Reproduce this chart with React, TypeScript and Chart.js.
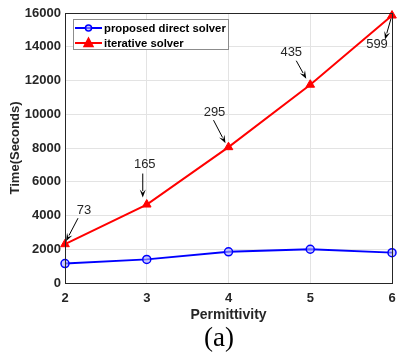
import React, { useEffect, useRef } from "react";
import { Chart, registerables } from "chart.js";

Chart.register(...registerables);

const permittivity = [2, 3, 4, 5, 6];
const directTimes = [1150, 1400, 1850, 2000, 1800];
const iterativeTimes = [2300, 4650, 8050, 11750, 15850];
const iterationLabels = ["73", "165", "295", "435", "599"];
const yTickMax = 16000;
const yTickStep = 2000;

const FONT = "'Liberation Sans', Arial, sans-serif";

// offsets (px) of text centre, arrow tail and arrow head relative to each red point
const annotationOffsets = [
  { tx: 19, ty: -34, ax: 13, ay: -26, hx: 1, hy: -3 },
  { tx: -2, ty: -40, ax: -4, ay: -31, hx: -4, hy: -7 },
  { tx: -14, ty: -35, ax: -15, ay: -27, hx: -3, hy: -4 },
  { tx: -19, ty: -32, ax: -14, ay: -24, hx: -4, hy: -6 },
  { tx: -15, ty: 29, ax: -1, ay: 3, hx: -7, hy: 24 },
];

function drawArrow(ctx: CanvasRenderingContext2D, x1: number, y1: number, x2: number, y2: number) {
  const ang = Math.atan2(y2 - y1, x2 - x1);
  const len = 8;
  const w = 3;
  ctx.save();
  ctx.strokeStyle = "#000";
  ctx.fillStyle = "#000";
  ctx.lineWidth = 1;
  ctx.beginPath();
  ctx.moveTo(x1, y1);
  ctx.lineTo(x2 - Math.cos(ang) * len * 0.8, y2 - Math.sin(ang) * len * 0.8);
  ctx.stroke();
  ctx.beginPath();
  ctx.moveTo(x2, y2);
  ctx.lineTo(x2 - Math.cos(ang) * len + Math.sin(ang) * w, y2 - Math.sin(ang) * len - Math.cos(ang) * w);
  ctx.lineTo(x2 - Math.cos(ang) * len * 0.6, y2 - Math.sin(ang) * len * 0.6);
  ctx.lineTo(x2 - Math.cos(ang) * len - Math.sin(ang) * w, y2 - Math.sin(ang) * len + Math.cos(ang) * w);
  ctx.closePath();
  ctx.fill();
  ctx.restore();
}

const boxPlugin = {
  id: "boxPlugin",
  afterDraw(chart: any) {
    const { ctx, chartArea: a } = chart;
    ctx.save();
    ctx.strokeStyle = "#262626";
    ctx.lineWidth = 1;
    ctx.strokeRect(Math.round(a.left) + 0.5, Math.round(a.top) + 0.5, Math.round(a.right - a.left), Math.round(a.bottom - a.top));
    ctx.restore();
  },
};

const annotationPlugin = {
  id: "annotationPlugin",
  afterDatasetsDraw(chart: any) {
    const { ctx, scales } = chart;
    ctx.save();
    iterationLabels.forEach((lab, i) => {
      const px = scales.x.getPixelForValue(permittivity[i]);
      const py = scales.y.getPixelForValue(iterativeTimes[i]);
      const o = annotationOffsets[i];
      ctx.fillStyle = "#262626";
      ctx.font = `13px ${FONT}`;
      ctx.textAlign = "center";
      ctx.textBaseline = "middle";
      ctx.fillText(lab, px + o.tx, py + o.ty);
      drawArrow(ctx, px + o.ax, py + o.ay, px + o.hx, py + o.hy);
    });
    ctx.restore();
  },
};

const legendPlugin = {
  id: "customLegend",
  afterDatasetsDraw(chart: any) {
    const { ctx, chartArea: a } = chart;
    const x0 = a.left + 8;
    const y0 = a.top + 6;
    const w = 155;
    const h = 30;
    ctx.save();
    ctx.fillStyle = "#fff";
    ctx.fillRect(x0, y0, w, h);
    ctx.strokeStyle = "#8c8c8c";
    ctx.lineWidth = 1;
    ctx.strokeRect(x0 + 0.5, y0 + 0.5, w, h);
    const items = chart.data.datasets;
    items.forEach((ds: any, i: number) => {
      const cy = y0 + 9 + i * 15;
      ctx.strokeStyle = ds.borderColor;
      ctx.lineWidth = 2;
      ctx.beginPath();
      ctx.moveTo(x0 + 2, cy);
      ctx.lineTo(x0 + 29, cy);
      ctx.stroke();
      ctx.fillStyle = ds.pointBackgroundColor;
      ctx.strokeStyle = ds.borderColor;
      ctx.lineWidth = 1.5;
      if (ds.pointStyle === "triangle") {
        ctx.beginPath();
        ctx.moveTo(x0 + 15.5, cy - 5);
        ctx.lineTo(x0 + 20, cy + 3.5);
        ctx.lineTo(x0 + 11, cy + 3.5);
        ctx.closePath();
        ctx.fill();
        ctx.stroke();
      } else {
        ctx.beginPath();
        ctx.arc(x0 + 15.5, cy, 3, 0, Math.PI * 2);
        ctx.fill();
        ctx.stroke();
      }
      ctx.fillStyle = "#000";
      ctx.font = `bold 11.3px ${FONT}`;
      ctx.textAlign = "left";
      ctx.textBaseline = "middle";
      ctx.fillText(ds.label, x0 + 31, cy + 1);
    });
    ctx.restore();
  },
};

export default function App() {
  const ref = useRef<HTMLCanvasElement>(null);
  useEffect(() => {
    document.body.style.margin = "0";
    const chart = new Chart(ref.current!, {
      type: "line",
      data: {
        datasets: [
          {
            label: "proposed direct solver",
            data: permittivity.map((x, i) => ({ x, y: directTimes[i] })),
            borderColor: "#0000ff",
            backgroundColor: "#0000ff",
            pointBackgroundColor: "rgba(170,170,255,0.6)",
            pointBorderColor: "#0000ff",
            pointStyle: "circle",
            pointRadius: 4,
            pointBorderWidth: 1.5,
            borderWidth: 2,
          },
          {
            label: "iterative solver",
            data: permittivity.map((x, i) => ({ x, y: iterativeTimes[i] })),
            borderColor: "#ff0000",
            backgroundColor: "#ff0000",
            pointBackgroundColor: "#ff0000",
            pointBorderColor: "#ff0000",
            pointStyle: "triangle",
            pointRadius: 5,
            pointBorderWidth: 1,
            borderWidth: 2,
          },
        ],
      },
      options: {
        animation: false,
        responsive: false,
        clip: false,
        layout: { padding: { left: 8, right: 5, top: 13, bottom: 32 } },
        plugins: { legend: { display: false }, tooltip: { enabled: false } },
        scales: {
          x: {
            type: "linear",
            min: 2,
            max: 6,
            ticks: { stepSize: 1, color: "#262626", font: { family: FONT, size: 13, weight: "bold" }, padding: 8 },
            grid: { color: "#e3e3e3", drawTicks: false },
            border: { color: "#262626" },
            title: { display: true, text: "Permittivity", color: "#262626", font: { family: FONT, size: 14, weight: "bold" }, padding: { top: 4, bottom: 0 } },
            afterFit: (s: any) => { s.height = 41; s.paddingLeft = 0; s.paddingRight = 0; },
          },
          y: {
            min: 0,
            max: yTickMax,
            ticks: { stepSize: yTickStep, color: "#262626", font: { family: FONT, size: 13, weight: "bold" }, padding: 4, callback: (v: any) => String(v) },
            grid: { color: "#e3e3e3", drawTicks: false },
            border: { color: "#262626" },
            title: { display: true, text: "Time(Seconds)", color: "#262626", font: { family: FONT, size: 13, weight: "bold" }, padding: { top: 0, bottom: 2 } },
            afterFit: (s: any) => { s.width = 57; s.paddingTop = 0; s.paddingBottom = 0; },
          },
        },
      },
      plugins: [boxPlugin, legendPlugin, annotationPlugin],
    } as any);
    return () => chart.destroy();
  }, []);
  return (
    <div style={{ position: "fixed", left: 0, top: 0, width: 398, height: 356, background: "#fff" }}>
      <canvas ref={ref} width={398} height={356} style={{ display: "block" }} />
      <div style={{ position: "absolute", left: 0, width: 398, top: 323, textAlign: "center", paddingLeft: 40, boxSizing: "border-box", fontFamily: "'Liberation Serif', 'Times New Roman', serif", fontSize: 27, color: "#000", lineHeight: "28px" }}>
        (a)
      </div>
    </div>
  );
}
